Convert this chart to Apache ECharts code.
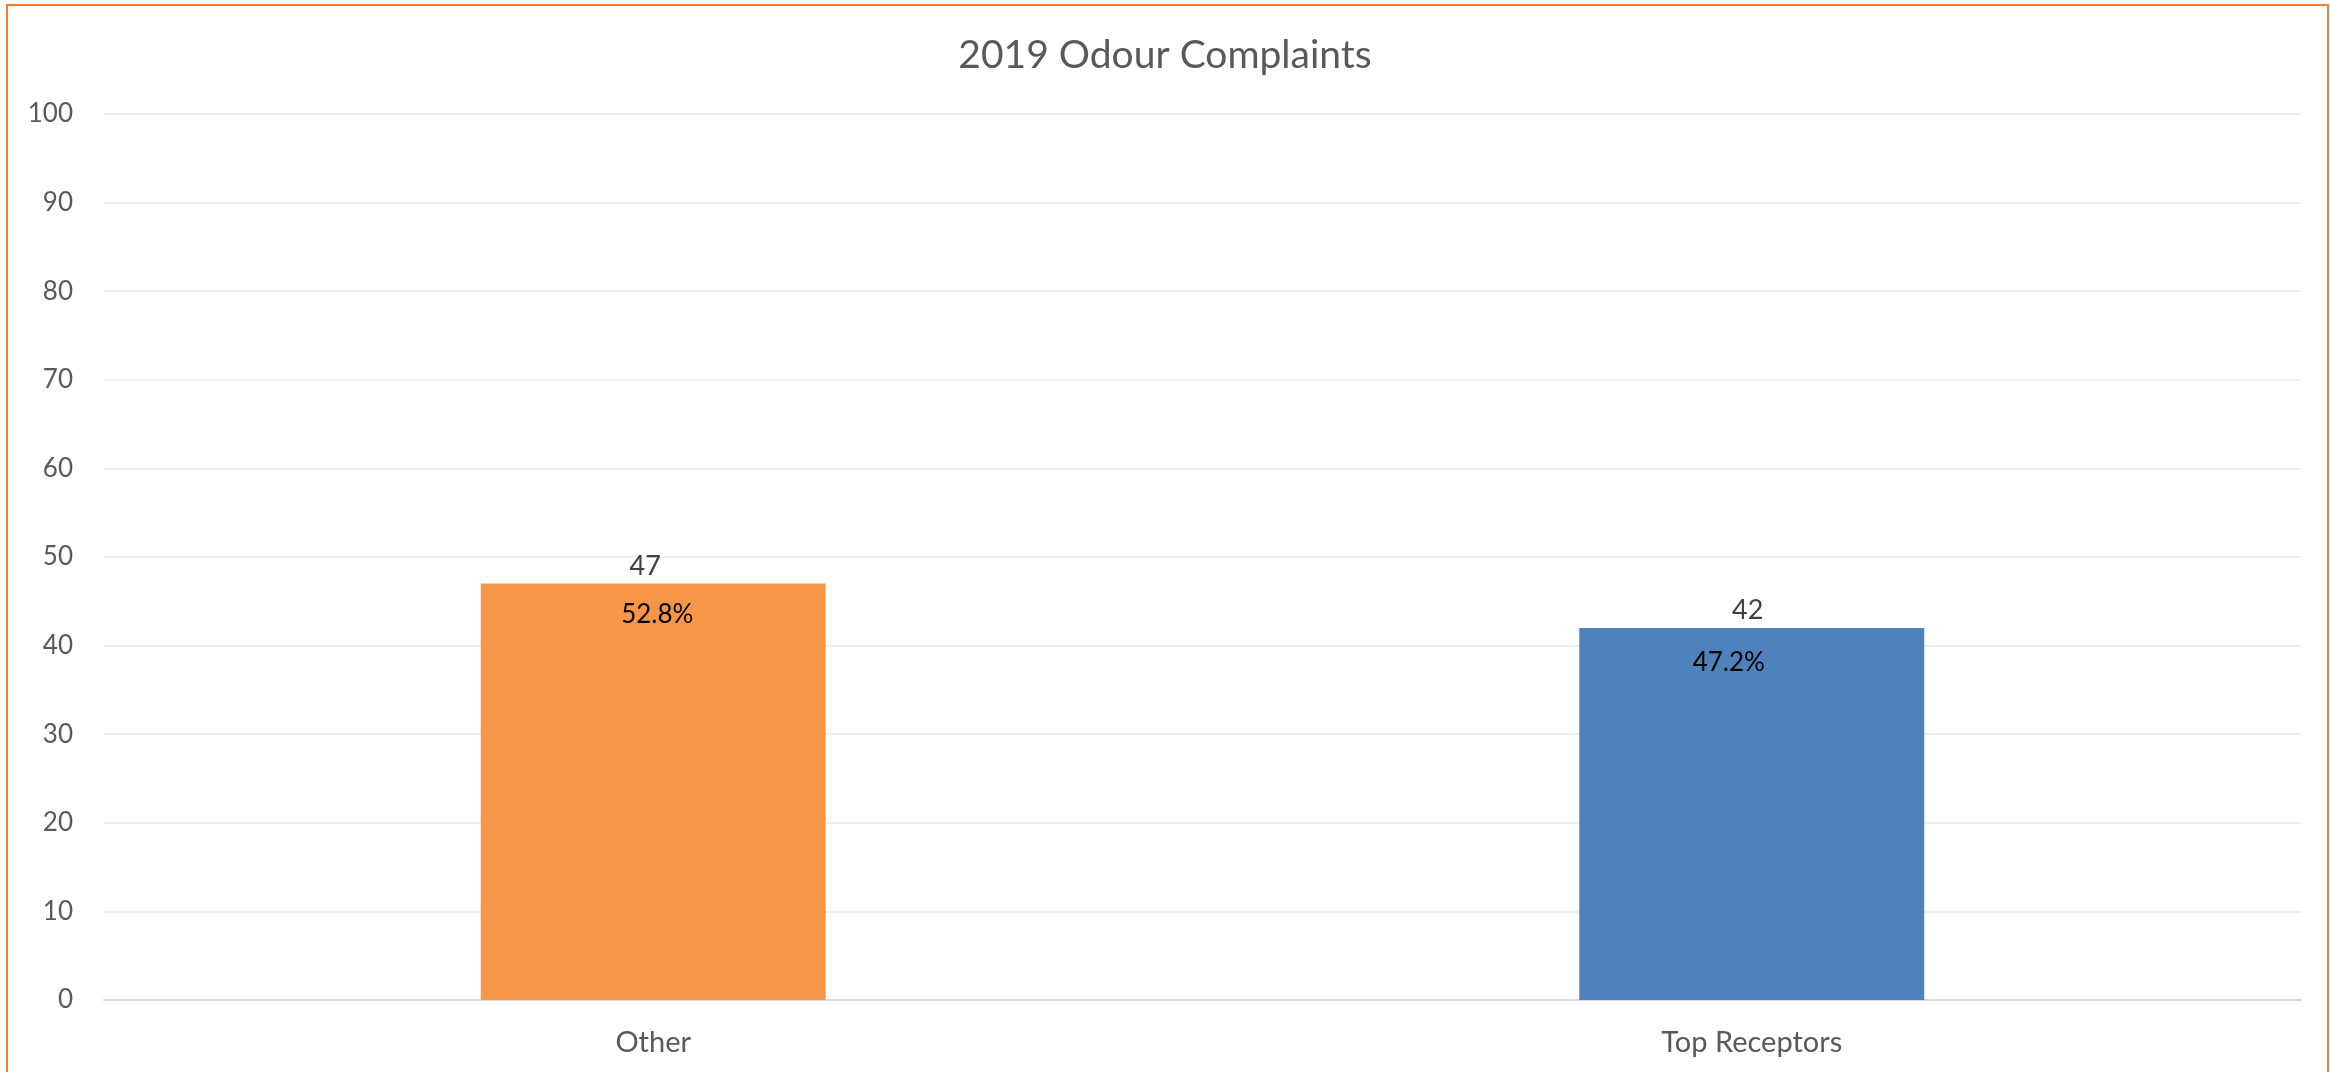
<!DOCTYPE html>
<html>
<head>
<meta charset="utf-8">
<script src="https://cdn.jsdelivr.net/npm/echarts@6/dist/echarts.min.js"></script>
<style>
html,body{margin:0;padding:0;background:#fff;}
#chart{width:2330px;height:1072px;}
</style>
</head>
<body>
<div id="chart"></div>
<script>
const categories = ['Other', 'Top Receptors'];
const values = [47, 42];
const percentLabels = ['52.8%', '47.2%'];
const barColors = ['#F79646', '#4F81BD'];
const yTicks = { min: 0, max: 100, interval: 10 };

const chart = echarts.init(document.getElementById('chart'));
const FONT = 'Lato';

chart.setOption({
  animation: false,
  backgroundColor: '#ffffff',
  title: {
    text: '2019 Odour Complaints',
    left: 'center',
    top: 31,
    textStyle: { fontFamily: FONT, fontSize: 39, fontWeight: 'normal', color: '#595959' }
  },
  graphic: [{
    type: 'rect',
    shape: { x: 7, y: 5, width: 2321, height: 1090 },
    style: { fill: 'none', stroke: '#ED7D31', lineWidth: 2 },
    silent: true
  }],
  grid: { left: 104, right: 29, top: 114, bottom: 72, containLabel: false },
  xAxis: {
    type: 'category',
    data: categories,
    axisLine: { lineStyle: { color: '#d9d9d9', width: 2 } },
    axisTick: { show: false },
    axisLabel: { fontFamily: FONT, fontSize: 29, color: '#595959', margin: 28 }
  },
  yAxis: {
    type: 'value',
    min: yTicks.min, max: yTicks.max, interval: yTicks.interval,
    axisLine: { show: false },
    axisTick: { show: false },
    splitLine: { lineStyle: { color: '#f0f0f0', width: 2 } },
    axisLabel: { fontFamily: FONT, fontSize: 26, color: '#595959', margin: 31 }
  },
  series: [
    {
      type: 'bar',
      barWidth: '31.4%',
      data: values.map((v, i) => ({
        value: v,
        itemStyle: { color: barColors[i] },
        label: { offset: i === 0 ? [-8, 0] : [-4, 0] }
      })),
      label: {
        show: true, position: 'top', distance: 4,
        fontFamily: FONT, fontSize: 27, color: '#404040'
      },
      z: 2
    },
    {
      type: 'bar',
      barWidth: '31.4%',
      barGap: '-100%',
      silent: true,
      data: values.map((v, i) => ({
        value: v,
        label: { offset: i === 0 ? [4, 0] : [-23, 4] }
      })),
      itemStyle: { color: 'rgba(0,0,0,0)' },
      label: {
        show: true, position: 'insideTop', distance: 18,
        fontFamily: FONT, fontSize: 26, color: '#000000',
        formatter: p => percentLabels[p.dataIndex]
      },
      z: 3
    }
  ]
});
</script>
</body>
</html>
